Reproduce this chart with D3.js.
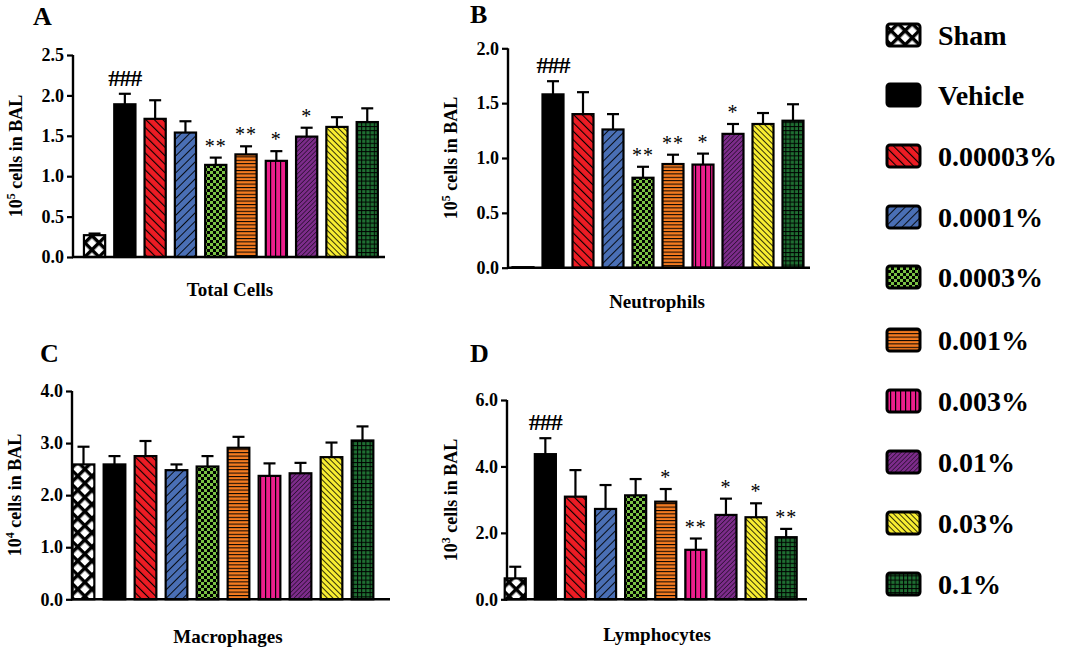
<!DOCTYPE html>
<html><head><meta charset="utf-8">
<script src="https://cdn.jsdelivr.net/npm/d3@7"></script>
<style>
html,body{margin:0;padding:0;background:#fff;}
svg{display:block;}
svg text{font-family:"Liberation Serif","Times New Roman",Times,"DejaVu Serif",serif !important;font-weight:bold;fill:#000;}
</style></head>
<body>
<svg id="chart" width="1066" height="649"></svg>
<script>
// ---------------- data ----------------
const groups = ["Sham","Vehicle","0.00003%","0.0001%","0.0003%","0.001%","0.003%","0.01%","0.03%","0.1%"];
const colors = ["#ffffff","#000000","#ed1c24","#4a6fb5","#7ac143","#f47b20","#ec1e8c","#7d2c8b","#f8ed31","#1f6f32"];

const totalMean = [0.27,1.89,1.71,1.54,1.14,1.27,1.19,1.49,1.61,1.67];
const totalErr  = [0.02,0.13,0.23,0.14,0.09,0.10,0.12,0.11,0.12,0.17];
const totalSig  = ["","###","","","**","**","*","*","",""];
const totalTicks = [0,0.5,1.0,1.5,2.0,2.5];

const neutroMean = [0.005,1.58,1.40,1.26,0.82,0.945,0.94,1.22,1.31,1.34];
const neutroErr  = [0,0.12,0.20,0.14,0.10,0.085,0.10,0.09,0.10,0.15];
const neutroSig  = ["","###","","","**","**","*","*","",""];
const neutroTicks = [0,0.5,1.0,1.5,2.0];

const macroMean = [2.59,2.59,2.75,2.48,2.55,2.91,2.37,2.42,2.73,3.05];
const macroErr  = [0.34,0.16,0.29,0.11,0.20,0.21,0.24,0.20,0.28,0.27];
const macroSig  = ["","","","","","","","","",""];
const macroTicks = [0,1.0,2.0,3.0,4.0];

const lymphoMean = [0.63,4.37,3.09,2.72,3.13,2.94,1.49,2.54,2.47,1.87];
const lymphoErr  = [0.35,0.48,0.80,0.72,0.49,0.38,0.34,0.49,0.42,0.25];
const lymphoSig  = ["","###","","","","*","**","*","*","**"];
const lymphoTicks = [0,2.0,4.0,6.0];

const panelLetters = ["A","B","C","D"];
const panelTitles = ["Total Cells","Neutrophils","Macrophages","Lymphocytes"];
const panelExp = ["5","5","4","3"];

// ---------------- layout ----------------
const panels = [
  {mean:totalMean, err:totalErr, sig:totalSig, ticks:totalTicks, max:2.5,
   ax:73, y0:257, y1:55, bx:[79.4,382.4], axEnd:385, letter:[33,25], title:[230,296], ylab:[22,156]},
  {mean:neutroMean, err:neutroErr, sig:neutroSig, ticks:neutroTicks, max:2.0,
   ax:508, y0:267.7, y1:48.3, bx:[508,808], axEnd:810, letter:[470,23], title:[657,308], ylab:[457,158]},
  {mean:macroMean, err:macroErr, sig:macroSig, ticks:macroTicks, max:4.0,
   ax:72, y0:599.3, y1:391, bx:[68,378], axEnd:390, letter:[40,362], title:[228,643], ylab:[21,495]},
  {mean:lymphoMean, err:lymphoErr, sig:lymphoSig, ticks:lymphoTicks, max:6.0,
   ax:507, y0:599.3, y1:400, bx:[500.2,801.2], axEnd:807, letter:[470,362], title:[657,641], ylab:[457,500]}
];

const svg = d3.select("#chart");
const defs = svg.append("defs");

// ---------------- patterns ----------------
function pat(id, w, h, bg, draw, rot){
  const p = defs.append("pattern").attr("id",id).attr("patternUnits","userSpaceOnUse")
    .attr("width",w).attr("height",h);
  if(rot) p.attr("patternTransform","rotate("+rot+")");
  p.append("rect").attr("width",w).attr("height",h).attr("fill",bg);
  draw(p,w,h);
}
// 0 sham crosshatch
pat("p0",10,10,"#fff",(p,w,h)=>{
  p.append("rect").attr("x",0).attr("y",0).attr("width",3.4).attr("height",h).attr("fill","#000");
  p.append("rect").attr("x",0).attr("y",0).attr("width",w).attr("height",3.4).attr("fill","#000");
},45);
// 1 vehicle solid
pat("p1",4,4,colors[1],()=>{});
// 2 red "\\"
pat("p2",6,6,colors[2],(p,w,h)=>{
  p.append("line").attr("x1",0).attr("y1",0).attr("x2",0).attr("y2",h).attr("stroke","#000").attr("stroke-width",2.2);
},-45);
// 3 blue "//"
pat("p3",6,6,colors[3],(p,w,h)=>{
  p.append("line").attr("x1",0).attr("y1",0).attr("x2",0).attr("y2",h).attr("stroke","#000").attr("stroke-width",1.8);
},45);
// 4 green checkerboard
pat("p4",6,6,colors[4],(p,w,h)=>{
  p.append("rect").attr("x",0).attr("y",0).attr("width",3).attr("height",3).attr("fill","#000");
  p.append("rect").attr("x",3).attr("y",3).attr("width",3).attr("height",3).attr("fill","#000");
});
// 5 orange horizontal
pat("p5",4,3.4,colors[5],(p,w,h)=>{
  p.append("rect").attr("x",0).attr("y",0).attr("width",w).attr("height",1).attr("fill","#000");
});
// 6 pink vertical
pat("p6",5,4,colors[6],(p,w,h)=>{
  p.append("rect").attr("x",0).attr("y",0).attr("width",1.2).attr("height",h).attr("fill","#000");
});
// 7 purple fine "//"
pat("p7",3.2,3.2,colors[7],(p,w,h)=>{
  p.append("line").attr("x1",0).attr("y1",0).attr("x2",0).attr("y2",h).attr("stroke","#000").attr("stroke-width",1);
},45);
// 8 yellow "\\"
pat("p8",4,4,colors[8],(p,w,h)=>{
  p.append("line").attr("x1",0).attr("y1",0).attr("x2",0).attr("y2",h).attr("stroke","#000").attr("stroke-width",1.6);
},-45);
// 9 dark green grid
pat("p9",4.2,4.2,colors[9],(p,w,h)=>{
  p.append("rect").attr("x",0).attr("y",0).attr("width",1).attr("height",h).attr("fill","#000");
  p.append("rect").attr("x",0).attr("y",0).attr("width",w).attr("height",1).attr("fill","#000");
});

// ---------------- panels ----------------
panels.forEach((P,pi)=>{
  const g = svg.append("g");
  const y = d3.scaleLinear().domain([0,P.max]).range([P.y0,P.y1]);
  const x = d3.scaleBand().domain(groups).range(P.bx).paddingInner(0.3).paddingOuter(0.15);

  // y axis
  const yAxis = d3.axisLeft(y).tickValues(P.ticks).tickFormat(d3.format(".1f")).tickSizeOuter(0).tickSize(6).tickPadding(3);
  const ag = g.append("g").attr("transform","translate("+P.ax+",0)").call(yAxis);
  ag.attr("font-family",null).attr("font-size",null);
  ag.select(".domain").attr("stroke","#000").attr("stroke-width",2.4).attr("d","M0,"+(P.y0+1)+"V"+P.y1);
  ag.selectAll(".tick line").attr("stroke","#000").attr("stroke-width",2.2);
  ag.selectAll(".tick text").style("font-size","18px").attr("fill","#000");

  // bars
  const data = groups.map((k,i)=>({k,i,m:P.mean[i],e:P.err[i],s:P.sig[i]}));
  // error bars
  const eb = g.selectAll(".eb").data(data.filter(d=>d.e>0)).enter().append("g");
  eb.append("line").attr("x1",d=>x(d.k)+x.bandwidth()/2).attr("x2",d=>x(d.k)+x.bandwidth()/2)
    .attr("y1",d=>y(d.m)).attr("y2",d=>y(d.m+d.e)).attr("stroke","#000").attr("stroke-width",2.2);
  eb.append("line").attr("x1",d=>x(d.k)+x.bandwidth()/2-6).attr("x2",d=>x(d.k)+x.bandwidth()/2+6)
    .attr("y1",d=>y(d.m+d.e)).attr("y2",d=>y(d.m+d.e)).attr("stroke","#000").attr("stroke-width",2.2);

  g.selectAll(".bar").data(data).enter().append("rect")
    .attr("x",d=>x(d.k)).attr("width",x.bandwidth())
    .attr("y",d=>y(d.m)).attr("height",d=>y(0)-y(d.m))
    .attr("fill",d=>"url(#p"+d.i+")").attr("stroke","#000").attr("stroke-width",2.2);

  // x axis line
  g.append("line").attr("x1",P.ax-1).attr("x2",P.axEnd).attr("y1",P.y0).attr("y2",P.y0)
    .attr("stroke","#000").attr("stroke-width",2.4);

  // significance
  g.selectAll(".sig").data(data.filter(d=>d.s)).enter().append("text")
    .attr("x",d=>x(d.k)+x.bandwidth()/2)
    .attr("y",d=>y(d.m+d.e)-(d.s[0]==="#"?8:5))
    .attr("text-anchor","middle")
    .style("font-size",d=>d.s[0]==="#"?"24px":"20px")
    .style("font-weight",d=>d.s[0]==="#"?"bold":"normal")
    .attr("letter-spacing",d=>d.s[0]==="#"?"-1px":"1px")
    .text(d=>d.s);

  // panel letter
  g.append("text").attr("x",P.letter[0]).attr("y",P.letter[1]).style("font-size","26px").text(panelLetters[pi]);
  // title
  g.append("text").attr("x",P.title[0]).attr("y",P.title[1]).attr("text-anchor","middle")
    .style("font-size","19px").text(panelTitles[pi]);
  // y label
  const yl = g.append("text").attr("transform","translate("+P.ylab[0]+","+P.ylab[1]+") rotate(-90)")
    .attr("text-anchor","middle").style("font-size","18px");
  yl.append("tspan").text("10");
  yl.append("tspan").attr("dy","-7").style("font-size","12px").text(panelExp[pi]);
  yl.append("tspan").attr("dy","7").text(" cells in BAL");
});

// ---------------- legend ----------------
const legY = [35,95,156,217,277,340,401,462,523,584];
const lg = svg.append("g");
groups.forEach((k,i)=>{
  lg.append("rect").attr("x",887).attr("y",legY[i]-11).attr("width",33).attr("height",22)
    .attr("rx",3).attr("fill","url(#p"+i+")").attr("stroke","#000").attr("stroke-width",3);
  lg.append("text").attr("x",938).attr("y",legY[i]+10).style("font-size","28px").text(k);
});
</script>
</body></html>
